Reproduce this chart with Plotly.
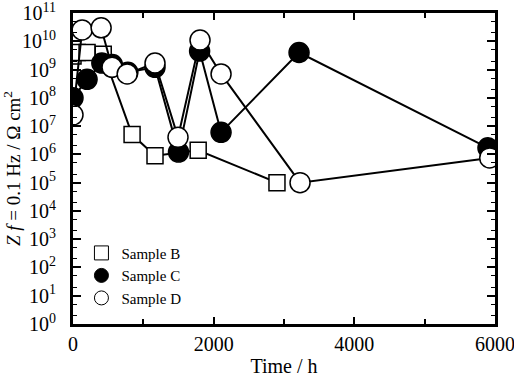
import plotly.graph_objects as go

time_b = [0, 60, 200, 430, 840, 1166, 1780, 2900]
z_b = [3e9, 4e9, 4e9, 3.5e9, 5e6, 9e5, 1.4e6, 1e5]

time_c = [0, 200, 410, 560, 780, 1166, 1500, 1800, 2105, 3214, 5900]
z_c = [1e8, 4.5e8, 1.7e9, 1.5e9, 8e8, 1.2e9, 1.2e6, 4.5e9, 6e6, 4e9, 1.7e6]

time_d = [0, 130, 400, 555, 770, 1166, 1493, 1806, 2105, 3228, 5925]
z_d = [2.5e7, 2.5e10, 3e10, 1.2e9, 7e8, 1.7e9, 4e6, 1.1e10, 7e8, 1e5, 7.5e5]

y_exps = list(range(0, 12))
x_ticks = [0, 2000, 4000, 6000]

font_family = "Liberation Serif"

fig = go.Figure()

series = [
    ("Sample B", time_b, z_b, "square", "white", 16),
    ("Sample C", time_c, z_c, "circle", "black", 20),
    ("Sample D", time_d, z_d, "circle", "white", 20),
]
for name, x, y, sym, fill, sz in series:
    fig.add_trace(go.Scatter(
        x=x, y=y, mode="lines+markers", name=name, showlegend=False,
        line=dict(color="black", width=2),
        marker=dict(symbol=sym, size=sz, color=fill, line=dict(color="black", width=1.5)),
    ))
for name, x, y, sym, fill, sz in series:
    fig.add_trace(go.Scatter(
        x=[None], y=[None], mode="markers", name=name, showlegend=True,
        marker=dict(symbol=sym, size=14, color=fill, line=dict(color="black", width=1)),
    ))

fig.update_layout(
    width=514, height=384,
    margin=dict(l=73, r=19, t=13, b=60, autoexpand=False),
    paper_bgcolor="white", plot_bgcolor="white",
    font=dict(family=font_family, size=16, color="black"),
    legend=dict(x=0.02, y=0.03, xanchor="left", yanchor="bottom",
                bgcolor="rgba(0,0,0,0)", font=dict(size=15, family=font_family),
                itemwidth=30, tracegroupgap=0),
)
fig.update_xaxes(
    range=[0, 6000], tickvals=x_ticks, ticktext=[str(v) for v in x_ticks],
    ticks="inside", ticklen=7, tickwidth=2, tickcolor="black",
    minor=dict(dtick=1000, ticks="inside", ticklen=5, tickwidth=2, tickcolor="black", showgrid=False),
    showline=True, linewidth=2.5, linecolor="black", mirror="allticks",
    showgrid=False, zeroline=False, automargin=False,
    title=dict(text="Time / h", font=dict(size=20, family=font_family), standoff=6),
    tickfont=dict(size=20, family=font_family), ticklabelstandoff=0,
    ticklabeloverflow="allow",
)
fig.update_yaxes(
    type="log", range=[0, 11],
    tickvals=[10 ** e for e in y_exps],
    ticktext=["10<sup>%d</sup>" % e for e in y_exps],
    ticks="inside", ticklen=8, tickwidth=2, tickcolor="black",
    minor=dict(ticks="inside", ticklen=4, tickwidth=1, tickcolor="black", showgrid=False),
    showline=True, linewidth=3, linecolor="black", mirror="allticks",
    showgrid=False, zeroline=False, automargin=False,
    title=dict(text="<i>Z</i> <i>f</i> = 0.1 Hz / Ω cm<sup>2</sup>", font=dict(size=19, family=font_family), standoff=2),
    tickfont=dict(size=20, family=font_family), ticklabelstandoff=10,
    ticklabeloverflow="allow",
)

fig.write_html("out.html")
